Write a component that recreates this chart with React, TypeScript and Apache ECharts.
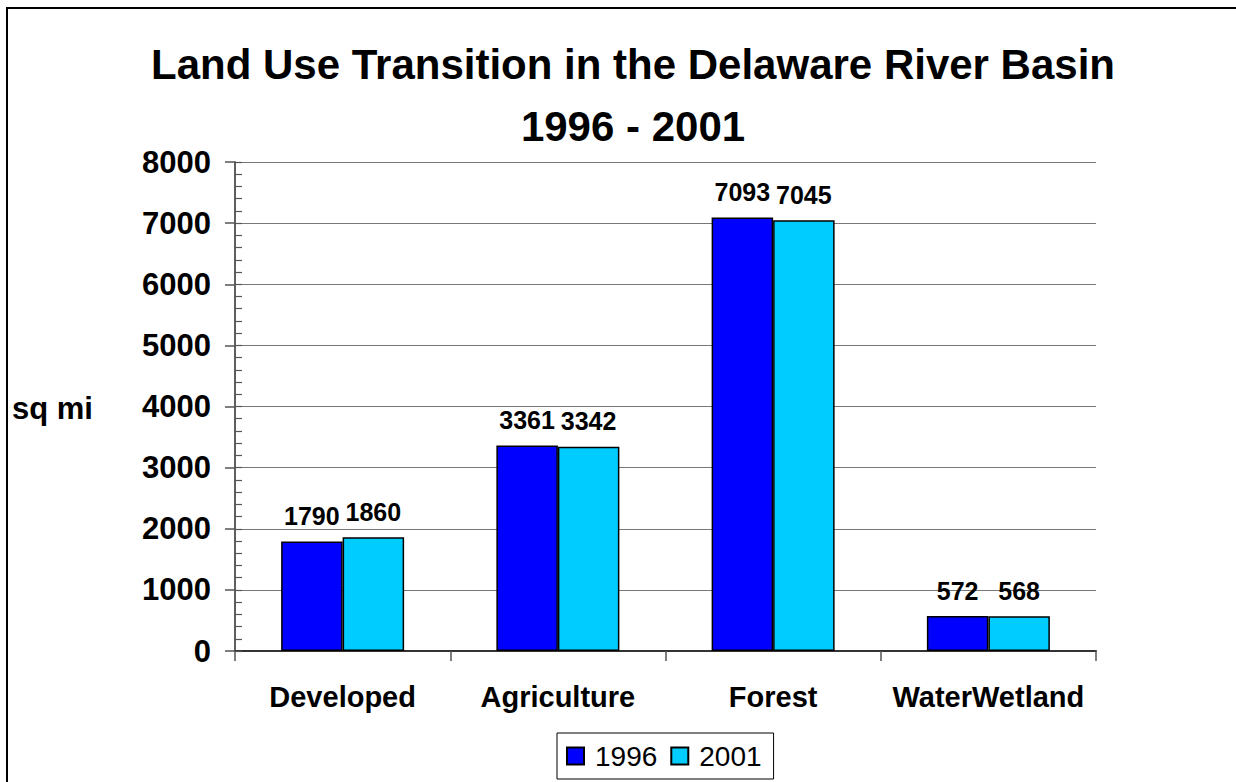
import React, { useEffect, useRef } from "react";
import * as echarts from "echarts";

const categories = ["Developed", "Agriculture", "Forest", "WaterWetland"];
const values1996 = [1790, 3361, 7093, 572];
const values2001 = [1860, 3342, 7045, 568];
const seriesNames = ["1996", "2001"];
const titleLines = ["Land Use Transition in the Delaware River Basin", "1996 - 2001"];
const yAxisName = "sq mi";

const FONT = '"Liberation Sans", Arial, Helvetica, sans-serif';

export default function App() {
  const ref = useRef<HTMLDivElement>(null);
  useEffect(() => {
    if (!ref.current) return;
    const chart = echarts.init(ref.current, null, { renderer: "svg" });
    const barStyle = (color: string) => ({
      color,
      borderColor: "#000",
      borderWidth: 1.5,
    });
    const labelCfg = {
      show: true,
      position: "top",
      distance: 13,
      fontSize: 25,
      fontWeight: "bold",
      fontFamily: FONT,
      color: "#000",
    };
    chart.setOption({
      animation: false,
      backgroundColor: "#fff",
      title: [
        {
          text: titleLines[0],
          left: 628,
          top: 38,
          textAlign: "center",
          textStyle: { fontSize: 42, fontWeight: "bold", fontFamily: FONT, color: "#000" },
        },
        {
          text: titleLines[1],
          left: 628,
          top: 100,
          textAlign: "center",
          textStyle: { fontSize: 42, fontWeight: "bold", fontFamily: FONT, color: "#000" },
        },
      ],
      graphic: [
        {
          type: "rect",
          shape: { x: 7, y: 8, width: 1260, height: 820 },
          style: { fill: "none", stroke: "#000", lineWidth: 2 },
          silent: true,
        },
        {
          type: "text",
          x: 12,
          y: 408,
          style: {
            text: yAxisName,
            fontSize: 31,
            fontWeight: "bold",
            fontFamily: FONT,
            fill: "#000",
            align: "left",
            verticalAlign: "middle",
          },
        },
      ],
      legend: {
        left: 557,
        top: 733,
        itemWidth: 17,
        itemHeight: 17,
        itemGap: 13,
        padding: [7, 12, 7, 9],
        borderColor: "#000",
        borderWidth: 1,
        icon: "rect",
        textStyle: {
          fontSize: 28,
          fontFamily: FONT,
          color: "#000",
          lineHeight: 32,
          padding: [0, 0, 0, 6],
        },
        data: seriesNames,
      },
      grid: { left: 235, right: 140, top: 162, bottom: 131, containLabel: false },
      xAxis: {
        type: "category",
        data: categories,
        axisLine: { show: true, lineStyle: { color: "#333", width: 2 } },
        axisTick: { show: true, interval: 0, length: 10, lineStyle: { color: "#555", width: 1.5 } },
        axisLabel: {
          interval: 0,
          margin: 31,
          fontSize: 29,
          fontWeight: "bold",
          fontFamily: FONT,
          color: "#000",
        },
        splitLine: { show: false },
      },
      yAxis: [
        {
          type: "value",
          min: 0,
          max: 8000,
          interval: 1000,
          axisLine: { show: true, lineStyle: { color: "#555", width: 1.5 } },
          axisTick: { show: true, length: 10, lineStyle: { color: "#555", width: 1.5 } },
          axisLabel: {
            margin: 24,
            fontSize: 31,
            fontWeight: "bold",
            fontFamily: FONT,
            color: "#000",
            formatter: (v: number) => String(v),
          },
          splitLine: { show: true, lineStyle: { color: "#777", width: 1.2 } },
        },
        {
          type: "value",
          min: 0,
          max: 8000,
          interval: 200,
          position: "left",
          axisLine: { show: true, lineStyle: { color: "#555", width: 1.5 } },
          axisTick: { show: true, inside: true, length: 7, lineStyle: { color: "#555", width: 1.2 } },
          axisLabel: { show: false },
          splitLine: { show: false },
        },
      ],
      series: [
        {
          name: seriesNames[0],
          type: "bar",
          yAxisIndex: 0,
          data: values1996,
          barWidth: 61.5,
          barGap: "0%",
          itemStyle: barStyle("#0000ff"),
          label: labelCfg,
        },
        {
          name: seriesNames[1],
          type: "bar",
          yAxisIndex: 0,
          data: values2001,
          barWidth: 61.5,
          barGap: "0%",
          itemStyle: barStyle("#00ccff"),
          label: labelCfg,
        },
      ],
    });
    return () => chart.dispose();
  }, []);
  return (
    <div
      ref={ref}
      style={{ position: "fixed", left: 0, top: 0, width: 1236, height: 782 }}
    />
  );
}
